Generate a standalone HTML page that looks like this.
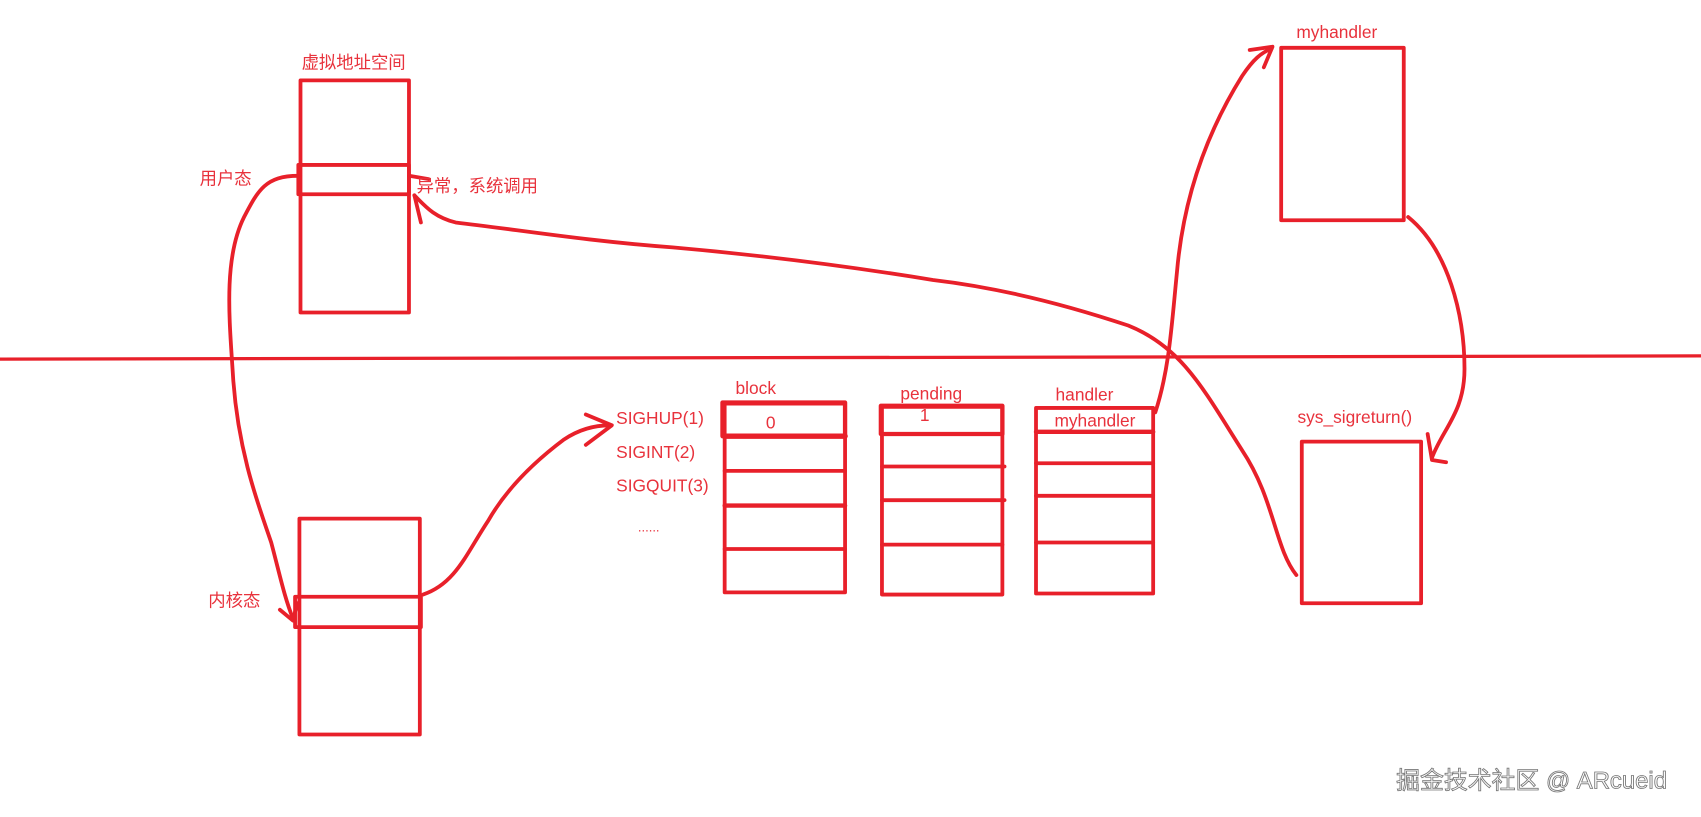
<!DOCTYPE html>
<html><head><meta charset="utf-8"><style>
html,body{margin:0;padding:0;background:#fff;width:1701px;height:817px;overflow:hidden}
svg text{font-family:"Liberation Sans","Noto Sans CJK SC",sans-serif;fill:#e8323c;font-size:16px}
</style></head><body>
<svg width="1701" height="817" viewBox="0 0 1568 753" xmlns="http://www.w3.org/2000/svg">
<g fill="none" stroke="#e8202a" stroke-width="3.5" stroke-linecap="round" stroke-linejoin="round">
<line x1="0" y1="331" x2="1568" y2="328" stroke-width="3"/>
<rect x="277" y="74" width="100" height="214"/>
<rect x="275" y="152" width="102" height="27"/>
<rect x="276" y="478" width="111" height="199"/>
<rect x="272" y="550" width="116" height="28"/>
<rect x="668" y="372" width="111" height="174"/>
<line x1="668" y1="402" x2="779" y2="402" stroke-width="5"/>
<line x1="668" y1="434" x2="779" y2="434"/>
<line x1="668" y1="466" x2="779" y2="466" stroke-width="4"/>
<line x1="668" y1="506" x2="779" y2="506"/>
<rect x="666" y="371" width="113" height="31" stroke-width="4"/>
<rect x="813" y="375" width="111" height="173"/>
<line x1="813" y1="400" x2="924" y2="400"/>
<line x1="813" y1="430" x2="926" y2="430"/>
<line x1="813" y1="461" x2="926" y2="461"/>
<line x1="813" y1="502" x2="924" y2="502"/>
<rect x="812" y="374" width="112" height="26" stroke-width="4"/>
<rect x="955" y="376" width="108" height="171"/>
<line x1="955" y1="398" x2="1063" y2="398" stroke-width="4"/>
<line x1="955" y1="427" x2="1063" y2="427"/>
<line x1="955" y1="457" x2="1063" y2="457"/>
<line x1="955" y1="500" x2="1063" y2="500"/>
<rect x="1181" y="44" width="113" height="159"/>
<rect x="1200" y="407" width="110" height="149"/>
<path d="M275,162 C245,162 238,175 225,200 C205,240 212,300 215,350 C220,420 240,470 250,500 C258,530 262,550 270,570"/>
<path d="M258,562 L270,572 L274,556"/>
<path d="M390,548 C420,538 430,510 450,480 C470,445 500,420 520,405 C535,395 550,392 562,392"/>
<path d="M540,382 L564,392 L540,410"/>
<path d="M1065,380 C1078,340 1080,300 1085,250 C1092,170 1120,110 1145,70 C1155,55 1163,48 1172,45"/>
<path d="M1152,46 L1173,43 L1165,62"/>
<path d="M1298,200 C1335,230 1350,290 1350,340 C1350,380 1330,395 1320,422"/>
<path d="M1316,400 L1320,424 L1333,426"/>
<path d="M1195,530 C1175,505 1175,460 1145,415 C1110,360 1090,320 1040,300 C980,280 920,265 860,258 C780,245 700,235 620,228 C540,222 480,212 420,205 C400,200 392,190 382,180"/>
<path d="M382,180 L388,205"/>
<path d="M377,162 L395,165"/>
</g>
<text x="278" y="63">虚拟地址空间</text>
<text x="184" y="170">用户态</text>
<text x="384" y="177">异常，系统调用</text>
<text x="192" y="559">内核态</text>
<text x="568" y="391">SIGHUP(1)</text>
<text x="568" y="422">SIGINT(2)</text>
<text x="568" y="453">SIGQUIT(3)</text>
<text x="588" y="490" style="font-size:12px">......</text>
<text x="678" y="363">block</text>
<text x="706" y="395">0</text>
<text x="830" y="368">pending</text>
<text x="848" y="388">1</text>
<text x="973" y="369">handler</text>
<text x="972" y="393">myhandler</text>
<text x="1195" y="35">myhandler</text>
<text x="1196" y="390">sys_sigreturn()</text>
<text x="1287" y="727" style="fill:#fff;stroke:#777;stroke-width:0.8px;font-size:22px">掘金技术社区 @ ARcueid</text>
</svg>
</body></html>
